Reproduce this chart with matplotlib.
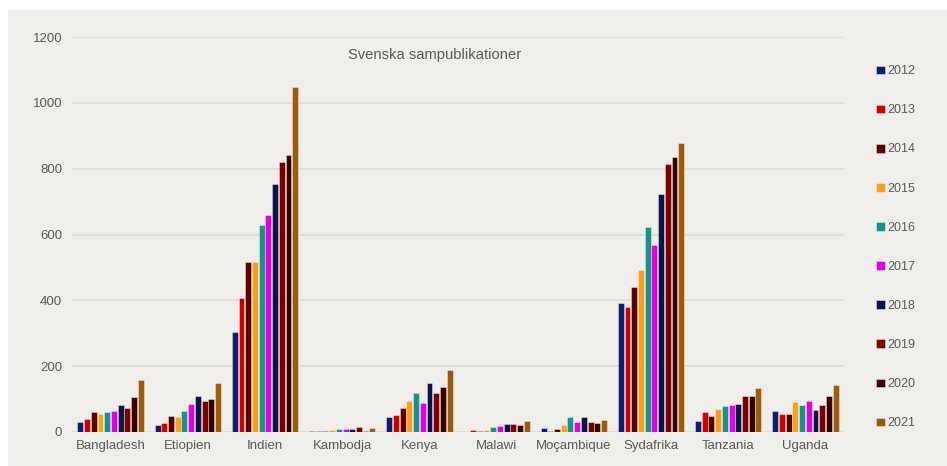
import numpy as np
import matplotlib.pyplot as plt
from matplotlib.patches import Rectangle

plt.rcParams['font.family'] = ['Liberation Sans', 'DejaVu Sans']

countries = ["Bangladesh", "Etiopien", "Indien", "Kambodja", "Kenya",
             "Malawi", "Moçambique", "Sydafrika", "Tanzania", "Uganda"]
years = ["2012", "2013", "2014", "2015", "2016",
         "2017", "2018", "2019", "2020", "2021"]

# one list per year, values in country order
v2012 = [31, 20, 303, 4, 45, 0, 11, 393, 32, 63]
v2013 = [39, 26, 407, 4, 51, 7, 4, 379, 60, 55]
v2014 = [60, 48, 517, 4, 74, 4, 9, 440, 50, 56]
v2015 = [54, 46, 517, 5, 93, 5, 22, 492, 70, 90]
v2016 = [60, 64, 629, 9, 117, 15, 45, 624, 79, 83]
v2017 = [65, 84, 658, 8, 87, 17, 30, 568, 81, 95]
v2018 = [83, 108, 753, 9, 148, 23, 45, 722, 85, 66]
v2019 = [73, 95, 821, 15, 119, 23, 31, 814, 109, 82]
v2020 = [105, 100, 841, 4, 138, 22, 27, 835, 109, 109]
v2021 = [159, 149, 1049, 12, 188, 34, 35, 878, 133, 142]
values = [v2012, v2013, v2014, v2015, v2016, v2017, v2018, v2019, v2020, v2021]

colors = ["#0c1f6f", "#cc0000", "#5a0000", "#ff9e1b", "#139486",
          "#e000e6", "#0a1547", "#7a0000", "#380000", "#9a5b0b"]

bg = "#efeeea"
txt = "#595959"

fig = plt.figure(figsize=(9.47, 4.66), dpi=100, facecolor="white")
fig.patches.append(Rectangle((8 / 947, 0), 1, 1 - 10 / 466, transform=fig.transFigure,
                             facecolor=bg, edgecolor="none", zorder=-10))

ax = fig.add_axes([72 / 947, 1 - 432 / 466, (844 - 72) / 947, (432 - 37) / 466])
ax.set_facecolor(bg)
ax.patch.set_alpha(0)

x = np.arange(len(countries))
step = 0.087
width = 0.077
for i, (yr, vals) in enumerate(zip(years, values)):
    ax.bar(x + (i - 4.5) * step, vals, width, color=colors[i], label=yr,
           edgecolor=(1, 1, 1, 0.45), linewidth=0.6, zorder=3)

ax.set_xlim(-0.5, 9.5)
ax.set_ylim(0, 1200)
ax.set_yticks(range(0, 1201, 200))
ax.yaxis.grid(True, color="#dcdbd7", linewidth=1.2)
ax.set_axisbelow(True)
for s in ax.spines.values():
    s.set_visible(False)
ax.set_xticks(x)
ax.set_xticklabels(countries)
ax.tick_params(axis="both", length=0, colors=txt, labelsize=9.5)
ax.tick_params(axis="y", pad=7)
ax.tick_params(axis="x", pad=6)

ax.text(0.47, 0.955, "Svenska sampublikationer", transform=ax.transAxes,
        ha="center", va="center", fontsize=10.6, color=txt)

fig.legend(loc="upper left", bbox_to_anchor=(870 / 947, 1 - 59 / 466),
           frameon=False, fontsize=9, labelcolor=txt,
           handlelength=0.7, handleheight=0.7, handletextpad=0.2,
           labelspacing=2.17, borderpad=0)

fig.savefig("out.png", dpi=100, facecolor="white")
